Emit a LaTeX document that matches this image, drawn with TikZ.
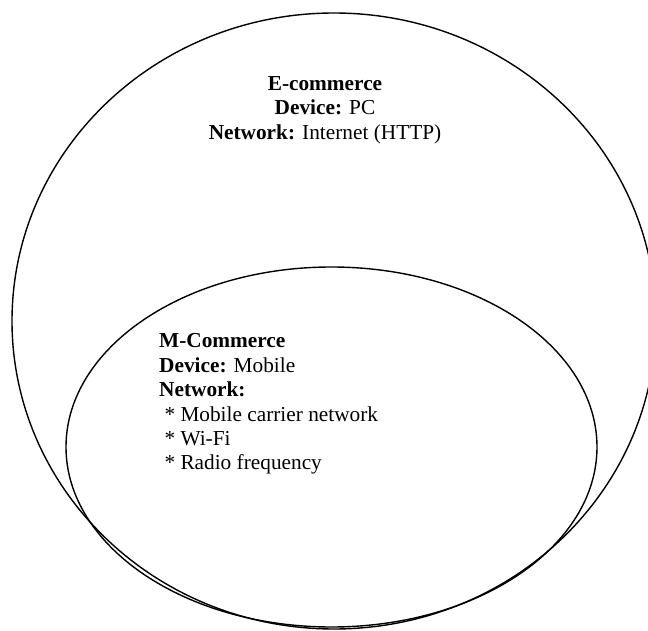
\documentclass[tikz,border=0pt]{standalone}
\usepackage{fontspec}
\setmainfont{Liberation Serif}

\tikzset{
  ring/.style = {black, line width=1.4pt},
  blurb/.style = {inner sep=0pt, font=\fontsize{21.3}{24.4}\selectfont}
}

\begin{document}
\begin{tikzpicture}[x=1pt, y=-1pt]
\useasboundingbox (0,0) rectangle (648,631);
\clip (0,0) rectangle (648,631);

\draw[ring] (334,321) ellipse (322 and 308);
\draw[ring] (331.5,447) ellipse (265.5 and 180);

\node[blurb, align=center] (ecom) at (325,110)
  {\textbf{E-commerce}\\ \textbf{Device:} PC\\ \textbf{Network:} Internet (HTTP)};

\node[blurb, align=left, anchor=north west] (mcom) at (159,333.5)
  {\textbf{M-Commerce}\\ \textbf{Device:} Mobile\\ \textbf{Network:}\\
   \ * Mobile carrier network\\ \ * Wi-Fi\\ \ * Radio frequency};
\end{tikzpicture}
\end{document}
